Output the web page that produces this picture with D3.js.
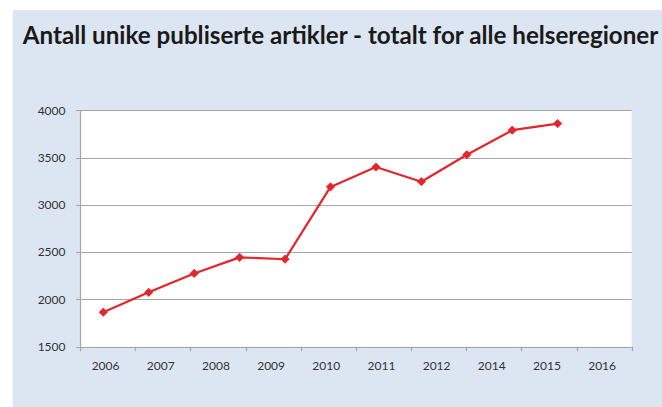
<!DOCTYPE html>
<html>
<head>
<meta charset="utf-8">
<script src="https://cdn.jsdelivr.net/npm/d3@7"></script>
<style>
  html, body { margin: 0; padding: 0; background: #fff; }
  svg { display: block; }
</style>
</head>
<body>
<div id="chart"></div>
<script>
// Values
const axisYears = ['2006', '2007', '2008', '2009', '2010', '2011', '2012', '2014', '2015', '2016'];
const seriesYears = ['2006', '2007', '2008', '2009', '2010', '2011', '2012', '2013', '2014', '2015', '2016'];
const articleCounts = [1865, 2075, 2275, 2445, 2425, 3190, 3400, 3245, 3530, 3790, 3860];
const yTicks = [1500, 2000, 2500, 3000, 3500, 4000];
const titleText = 'Antall unike publiserte artikler - totalt for alle helseregioner';

function drawChart() {
  const width = 662;
  const height = 407;
  const plot = { left: 80, right: 631.7, top: 110.3, bottom: 346.7 };

  const svg = d3
    .select('#chart')
    .append('svg')
    .attr('width', width)
    .attr('height', height);

  // light blue panel
  svg.append('rect')
    .attr('x', 12.7)
    .attr('y', 10)
    .attr('width', width - 12.7)
    .attr('height', height - 10)
    .attr('fill', '#dce6f2');

  const title = svg.append('text')
    .attr('x', 22.7)
    .attr('y', 43.5)
    .attr('font-family', 'Lato, "Open Sans", sans-serif')
    .attr('font-weight', 'bold')
    .attr('font-size', 22)
    .attr('fill', '#1a1a1a')
    .text(titleText);
  // fit the title so it just reaches the right edge
  const w = title.node().getComputedTextLength();
  title.attr('font-size', 22 * 636 / w);

  // plot area
  svg.append('rect')
    .attr('x', plot.left)
    .attr('y', plot.top)
    .attr('width', plot.right - plot.left)
    .attr('height', plot.bottom - plot.top)
    .attr('fill', '#fff');

  const y = d3.scaleLinear().domain([1500, 4000]).range([plot.bottom, plot.top]);
  const xBand = d3.scaleBand().domain(axisYears).range([plot.left, plot.right]);
  const xEdge = d3.scaleLinear().domain([0, axisYears.length]).range([plot.left, plot.right]);
  const xSeries = d3.scalePoint().domain(seriesYears).range([plot.left + 23.3, plot.left + 477.7]);

  const grey = '#a6a6a6';
  const labelFont = 'Lato, "Open Sans", sans-serif';

  // horizontal gridlines + y ticks
  svg.append('g')
    .selectAll('line')
    .data(yTicks)
    .enter()
    .append('line')
    .attr('x1', plot.left - 4)
    .attr('x2', plot.right)
    .attr('y1', (d) => Math.round(y(d)) + 0.5)
    .attr('y2', (d) => Math.round(y(d)) + 0.5)
    .attr('stroke', grey)
    .attr('stroke-width', 1.2);

  svg.append('g')
    .selectAll('text')
    .data(yTicks)
    .enter()
    .append('text')
    .attr('x', 65.5)
    .attr('y', (d) => y(d))
    .attr('dy', '0.36em')
    .attr('text-anchor', 'end')
    .attr('font-family', labelFont)
    .attr('font-size', 12)
    .attr('fill', '#333')
    .text((d) => d);

  // y axis line
  svg.append('line')
    .attr('x1', plot.left + 0.5)
    .attr('x2', plot.left + 0.5)
    .attr('y1', plot.top)
    .attr('y2', plot.bottom)
    .attr('stroke', grey)
    .attr('stroke-width', 1.2);

  // x ticks at band edges
  svg.append('g')
    .selectAll('line')
    .data(d3.range(axisYears.length + 1))
    .enter()
    .append('line')
    .attr('x1', (d) => Math.round(xEdge(d)) + 0.5)
    .attr('x2', (d) => Math.round(xEdge(d)) + 0.5)
    .attr('y1', plot.bottom)
    .attr('y2', plot.bottom + 4.5)
    .attr('stroke', grey)
    .attr('stroke-width', 1.2);

  svg.append('g')
    .selectAll('text')
    .data(axisYears)
    .enter()
    .append('text')
    .attr('x', (d) => xBand(d) + xBand.bandwidth() / 2 - 2)
    .attr('y', 369.5)
    .attr('text-anchor', 'middle')
    .attr('font-family', labelFont)
    .attr('font-size', 12)
    .attr('fill', '#333')
    .text((d) => d);

  // series
  const series = seriesYears.map((yr, i) => ({ year: yr, value: articleCounts[i] }));
  const red = '#e2262c';

  svg.append('path')
    .datum(series)
    .attr('fill', 'none')
    .attr('stroke', red)
    .attr('stroke-width', 2.2)
    .attr('stroke-linejoin', 'round')
    .attr('d', d3.line().x((d) => xSeries(d.year)).y((d) => y(d.value)));

  svg.append('g')
    .selectAll('path')
    .data(series)
    .enter()
    .append('path')
    .attr('d', d3.symbol(d3.symbolSquare, 34))
    .attr('transform', (d) => `translate(${xSeries(d.year)},${y(d.value)}) rotate(45)`)
    .attr('fill', red)
    .attr('stroke', red)
    .attr('stroke-width', 0.8);
}

document.addEventListener('DOMContentLoaded', drawChart);
</script>
</body>
</html>
